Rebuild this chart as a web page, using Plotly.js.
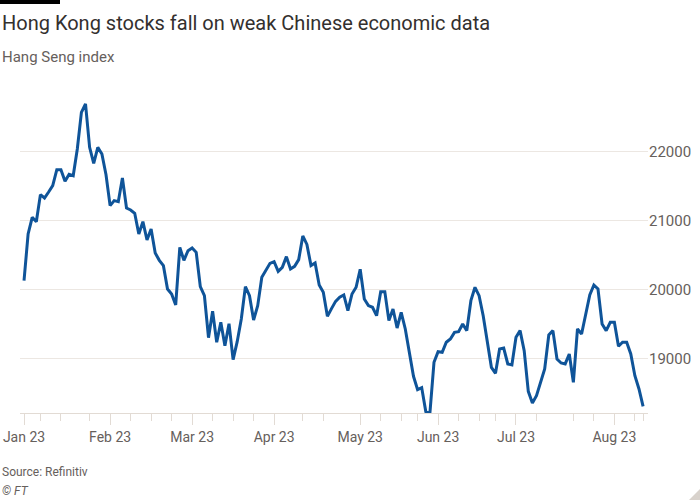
<!DOCTYPE html>
<html>
<head>
<meta charset="utf-8">
<script src="https://cdn.plot.ly/plotly-3.0.1.min.js"></script>
<style>
  html, body { margin: 0; padding: 0; background: #ffffff; }
  #chart { width: 700px; height: 500px; }
</style>
</head>
<body>
<div id="chart"></div>
<script>
// ---- Data (Hang Seng index closes, HK trading days) ----
const tradingDates = [
  "2023-01-03","2023-01-04","2023-01-05","2023-01-06","2023-01-09","2023-01-10","2023-01-11","2023-01-12","2023-01-13",
  "2023-01-16","2023-01-17","2023-01-18","2023-01-19","2023-01-20","2023-01-26","2023-01-27","2023-01-30","2023-01-31",
  "2023-02-01","2023-02-02","2023-02-03","2023-02-06","2023-02-07","2023-02-08","2023-02-09","2023-02-10","2023-02-13",
  "2023-02-14","2023-02-15","2023-02-16","2023-02-17","2023-02-20","2023-02-21","2023-02-22","2023-02-23","2023-02-24",
  "2023-02-27","2023-02-28",
  "2023-03-01","2023-03-02","2023-03-03","2023-03-06","2023-03-07","2023-03-08","2023-03-09","2023-03-10","2023-03-13",
  "2023-03-14","2023-03-15","2023-03-16","2023-03-17","2023-03-20","2023-03-21","2023-03-22","2023-03-23","2023-03-24",
  "2023-03-27","2023-03-28","2023-03-29","2023-03-30","2023-03-31",
  "2023-04-03","2023-04-04","2023-04-06","2023-04-11","2023-04-12","2023-04-13","2023-04-14","2023-04-17","2023-04-18",
  "2023-04-19","2023-04-20","2023-04-21","2023-04-24","2023-04-25","2023-04-26","2023-04-27","2023-04-28",
  "2023-05-02","2023-05-03","2023-05-04","2023-05-05","2023-05-08","2023-05-09","2023-05-10","2023-05-11","2023-05-12",
  "2023-05-15","2023-05-16","2023-05-17","2023-05-18","2023-05-19","2023-05-22","2023-05-23","2023-05-24","2023-05-25",
  "2023-05-29","2023-05-30","2023-05-31",
  "2023-06-01","2023-06-02","2023-06-05","2023-06-06","2023-06-07","2023-06-08","2023-06-09","2023-06-12","2023-06-13",
  "2023-06-14","2023-06-15","2023-06-16","2023-06-19","2023-06-20","2023-06-21","2023-06-23","2023-06-26","2023-06-27",
  "2023-06-28","2023-06-29","2023-06-30",
  "2023-07-03","2023-07-04","2023-07-05","2023-07-06","2023-07-07","2023-07-10","2023-07-11","2023-07-12","2023-07-13",
  "2023-07-14","2023-07-18","2023-07-19","2023-07-20","2023-07-21","2023-07-24","2023-07-25","2023-07-26","2023-07-27",
  "2023-07-28","2023-07-31",
  "2023-08-01","2023-08-02","2023-08-03","2023-08-04","2023-08-07","2023-08-08","2023-08-09","2023-08-10","2023-08-11",
  "2023-08-14","2023-08-15","2023-08-16"
];

const hangSeng = [
  // Jan
  20135, 20812, 21053, 20990, 21382, 21333, 21420, 21512, 21744,
  21744, 21575, 21676, 21657, 22043, 22575, 22696, 22068, 21836,
  // Feb
  22068, 21971, 21671, 21222, 21295, 21280, 21623, 21188, 21159,
  21111, 20812, 20990, 20725, 20884, 20536, 20430, 20353, 20014,
  19942, 19783,
  // Mar
  20618, 20430, 20570, 20609, 20546, 20048, 19918, 19309, 19691,
  19242, 19531, 19193, 19512, 18990, 19251, 19580, 20048, 19918,
  19565, 19773, 20184, 20295, 20386,
  // Apr
  20411, 20271, 20329, 20483, 20304, 20343, 20440, 20783, 20660,
  20353, 20391, 20072, 19966, 19618, 19730, 19835, 19895,
  // May
  19928, 19700, 19942, 20039, 20300, 19870, 19773, 19749, 19628,
  19976, 19976, 19556, 19725, 19449, 19676, 19435, 19121, 18749,
  18556, 18585, 18237,
  // Jun
  18213, 18952, 19106, 19097, 19242, 19290, 19386, 19396, 19507,
  19411, 19845, 20039, 19918, 19628, 19242, 18879, 18792, 19145,
  19159, 18928, 18913,
  // Jul
  19314, 19411, 19121, 18531, 18362, 18469, 18662, 18855, 19348,
  19411, 19000, 18942, 18928, 19072, 18662, 19435, 19362, 19652,
  19928, 20072,
  // Aug
  20014, 19507, 19411, 19531, 19531, 19184, 19242, 19242, 19072,
  18758, 18565, 18314
];

const monthTickDates  = ["2023-01-03","2023-02-06","2023-03-06","2023-04-03","2023-05-08","2023-06-05","2023-07-03","2023-08-07"];
const monthTickLabels = ["Jan 23","Feb 23","Mar 23","Apr 23","May 23","Jun 23","Jul 23","Aug 23"];
const yTickValues = [19000, 20000, 21000, 22000];
const yTickLabels = ["19000", "20000", "21000", "22000"];

// ---- Derived positions (trading-day axis, weekends/holidays removed) ----
const xIndex = tradingDates.map((d, i) => i);
const majorTickVals = monthTickDates.map(d => tradingDates.indexOf(d));
const minorTickVals = tradingDates
  .map((d, i) => ({ d, i }))
  .filter(o => (new Date(o.d + "T00:00:00Z").getUTCDay() === 1 && !monthTickDates.includes(o.d)) || o.i === tradingDates.length - 1)
  .map(o => o.i);

// ---- Layout geometry ----
const W = 700, H = 500;
const M = { l: 20, r: 52, t: 97, b: 87 };
const PW = W - M.l - M.r, PH = H - M.t - M.b;
const px = x => (x - M.l) / PW;
const py = y => (H - M.b - y) / PH;

const FONT = "Roboto, 'Liberation Sans', sans-serif";
const GREY = "#66605c";
const LINECOL = "#e2dbd4";

const trace = {
  x: xIndex,
  y: hangSeng,
  customdata: tradingDates,
  type: "scatter",
  mode: "lines",
  line: { color: "#0f5499", width: 3, shape: "linear" },
  hovertemplate: "%{customdata}: %{y}<extra></extra>"
};

const layout = {
  width: W, height: H,
  margin: M,
  paper_bgcolor: "#ffffff",
  plot_bgcolor: "#ffffff",
  showlegend: false,
  font: { family: FONT, color: GREY },
  xaxis: {
    range: [-0.98, 152.2],
    tickmode: "array",
    tickvals: majorTickVals,
    ticktext: monthTickLabels,
    ticks: "outside",
    ticklen: 11,
    tickwidth: 1,
    tickcolor: LINECOL,
    tickfont: { family: FONT, size: 14, color: GREY },
    showline: true,
    linecolor: LINECOL,
    linewidth: 1,
    showgrid: false,
    zeroline: false,
    minor: {
      tickmode: "array",
      tickvals: minorTickVals,
      ticks: "outside",
      ticklen: 7,
      tickwidth: 1,
      tickcolor: LINECOL,
      showgrid: false
    }
  },
  yaxis: {
    side: "right",
    range: [18217, 22797],
    tickmode: "array",
    tickvals: yTickValues,
    ticktext: yTickLabels,
    ticks: "",
    tickfont: { family: FONT, size: 15, color: GREY },
    showgrid: true,
    gridcolor: "#ece7e2",
    gridwidth: 1,
    showline: false,
    zeroline: false
  },
  shapes: [
    { type: "rect", xref: "paper", yref: "paper", x0: px(0), x1: px(60), y0: py(0), y1: py(4),
      fillcolor: "#000000", line: { width: 0 }, layer: "above" },
    { type: "path", xref: "paper", yref: "paper",
      path: `M ${px(689)} ${py(500)} L ${px(700)} ${py(489)} L ${px(700)} ${py(500)} Z`,
      fillcolor: "#d8d2cc", line: { width: 0 }, layer: "above" }
  ],
  annotations: [
    { text: "Hong Kong stocks fall on weak Chinese economic data", xref: "paper", yref: "paper",
      x: px(0), y: py(23), xanchor: "left", yanchor: "middle", showarrow: false,
      font: { family: FONT, size: 20, color: "#33302e" } },
    { text: "Hang Seng index", xref: "paper", yref: "paper",
      x: px(0), y: py(57), xanchor: "left", yanchor: "middle", showarrow: false,
      font: { family: FONT, size: 15, color: GREY } },
    { text: "Source: Refinitiv", xref: "paper", yref: "paper",
      x: px(0), y: py(472), xanchor: "left", yanchor: "middle", showarrow: false,
      font: { family: FONT, size: 12, color: GREY } },
    { text: "<i>© FT</i>", xref: "paper", yref: "paper",
      x: px(0), y: py(491), xanchor: "left", yanchor: "middle", showarrow: false,
      font: { family: FONT, size: 12, color: GREY } }
  ]
};

Plotly.newPlot("chart", [trace], layout, { displayModeBar: false, staticPlot: true });
</script>
</body>
</html>
